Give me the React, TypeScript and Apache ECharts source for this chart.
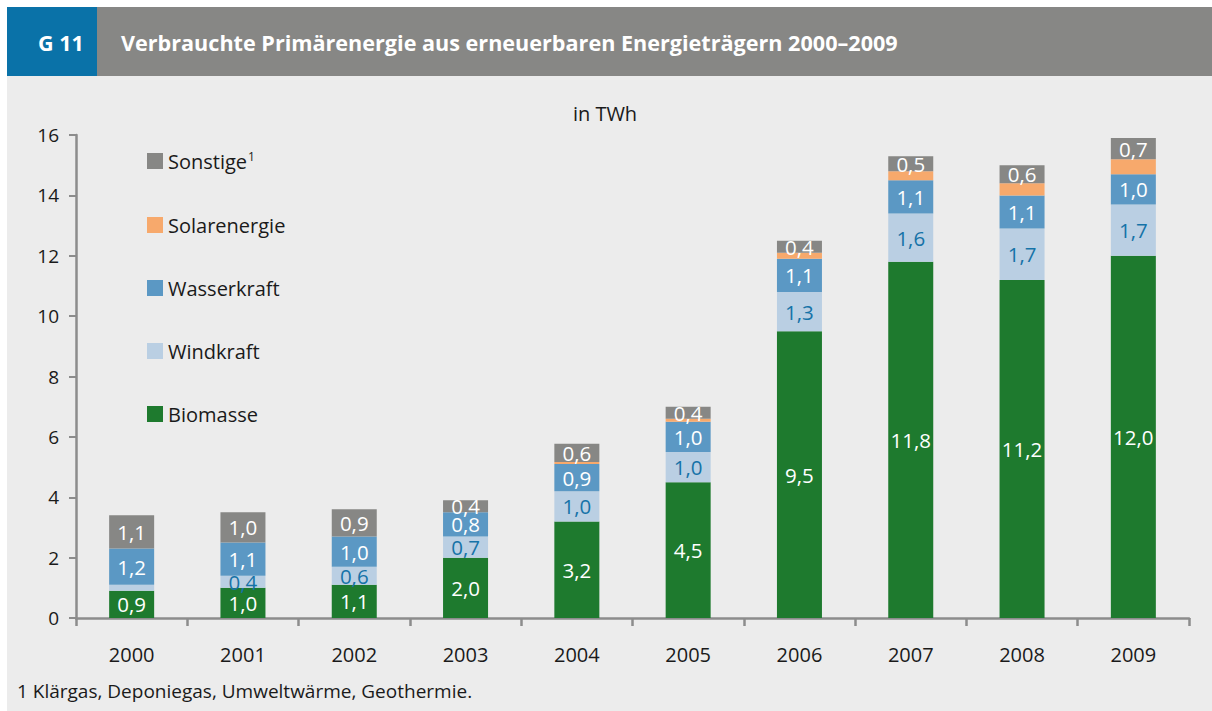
import React, { useEffect, useRef } from "react";
import * as echarts from "echarts";

const years = ["2000", "2001", "2002", "2003", "2004", "2005", "2006", "2007", "2008", "2009"];
const biomasse = [0.9, 1.0, 1.1, 2.0, 3.2, 4.5, 9.5, 11.8, 11.2, 12.0];
const windkraft = [0.2, 0.4, 0.6, 0.7, 1.0, 1.0, 1.3, 1.6, 1.7, 1.7];
const wasserkraft = [1.2, 1.1, 1.0, 0.8, 0.9, 1.0, 1.1, 1.1, 1.1, 1.0];
const solarenergie = [0, 0, 0, 0, 0.07, 0.1, 0.2, 0.3, 0.4, 0.5];
const sonstige = [1.1, 1.0, 0.9, 0.4, 0.6, 0.4, 0.4, 0.5, 0.6, 0.7];
const yTicks = { min: 0, max: 16, interval: 2 };

const FONT = "'Open Sans', 'Noto Sans', sans-serif";
const C = {
  bio: "#1e7a2e",
  wind: "#bacfe3",
  hydro: "#5b98c4",
  solar: "#f7a96c",
  other: "#878785",
  windText: "#1673a8",
};

const fmt = (v: number) => v.toFixed(1).replace(".", ",");

export default function App() {
  const ref = useRef<HTMLDivElement>(null);
  useEffect(() => {
    const chart = echarts.init(ref.current!, undefined, { renderer: "svg" });
    const mkLabel = (color: string, show = true) => ({
      show,
      position: "inside",
      color,
      fontSize: 20.5,
      fontFamily: FONT,
      formatter: (p: any) => (p.value < 0.3 ? "" : fmt(p.value)),
    });
    const bar = (name: string, data: number[], color: string, label: any) => ({
      name,
      type: "bar",
      stack: "total",
      data,
      barWidth: 45,
      itemStyle: { color },
      label,
    });
    chart.setOption({
      animation: false,
      backgroundColor: "#ffffff",
      textStyle: { fontFamily: FONT },
      graphic: [
        { type: "rect", z: -10, silent: true, shape: { x: 7, y: 76, width: 1205, height: 635 }, style: { fill: "#ececec" } },
        { type: "rect", z: -10, silent: true, shape: { x: 7, y: 7, width: 90, height: 69 }, style: { fill: "#0a72a8" } },
        { type: "rect", z: -10, silent: true, shape: { x: 97, y: 7, width: 1115, height: 69 }, style: { fill: "#878785" } },
        { type: "text", x: 38, y: 42, style: { text: "G 11", fill: "#ffffff", font: `bold 21.5px ${FONT}`, verticalAlign: "middle" } },
        { type: "text", x: 121, y: 42, style: { text: "Verbrauchte Primärenergie aus erneuerbaren Energieträgern 2000–2009", fill: "#ffffff", font: `bold 21.6px ${FONT}`, verticalAlign: "middle" } },
        { type: "text", x: 605, y: 113, style: { text: "in TWh", fill: "#1a1a1a", font: `20px ${FONT}`, align: "center", verticalAlign: "middle" } },
        { type: "text", x: 17, y: 691, style: { text: "1 Klärgas, Deponiegas, Umweltwärme, Geothermie.", fill: "#1a1a1a", font: `19px ${FONT}`, verticalAlign: "middle" } },
      ],
      legend: {
        orient: "vertical",
        left: 147,
        top: 150,
        padding: 0,
        itemWidth: 16,
        itemHeight: 16,
        itemGap: 43,
        icon: "rect",
        data: ["Sonstige", "Solarenergie", "Wasserkraft", "Windkraft", "Biomasse"],
        formatter: (n: string) => (n === "Sonstige" ? "{n|Sonstige}{s|1}" : "{n|" + n + "}"),
        textStyle: {
          color: "#1a1a1a",
          fontSize: 20,
          fontFamily: FONT,
          lineHeight: 20,
          rich: {
            n: { fontSize: 20, fontFamily: FONT, color: "#1a1a1a", lineHeight: 20 },
            s: { fontSize: 12, fontFamily: FONT, color: "#1a1a1a", padding: [0, 0, 10, 1], lineHeight: 20 },
          },
        },
      },
      grid: { left: 76, right: 23, top: 135, bottom: 93, containLabel: false },
      xAxis: {
        type: "category",
        data: years,
        boundaryGap: true,
        axisLine: { lineStyle: { color: "#8c8c8c", width: 2.5 } },
        axisTick: { show: true, length: 8, lineStyle: { color: "#8c8c8c", width: 2.5 } },
        axisLabel: { color: "#1a1a1a", fontSize: 20, fontFamily: FONT, margin: 26 },
      },
      yAxis: {
        type: "value",
        min: yTicks.min,
        max: yTicks.max,
        interval: yTicks.interval,
        splitLine: { show: false },
        axisLine: { show: true, lineStyle: { color: "#8c8c8c", width: 2.5 } },
        axisTick: { show: true, length: 7, lineStyle: { color: "#8c8c8c", width: 2 } },
        axisLabel: { color: "#1a1a1a", fontSize: 19, fontFamily: FONT, margin: 17 },
      },
      series: [
        bar("Biomasse", biomasse, C.bio, mkLabel("#ffffff")),
        bar("Windkraft", windkraft, C.wind, mkLabel(C.windText)),
        bar("Wasserkraft", wasserkraft, C.hydro, mkLabel("#ffffff")),
        bar("Solarenergie", solarenergie, C.solar, { show: false }),
        bar("Sonstige", sonstige, C.other, mkLabel("#ffffff")),
      ],
    });
    return () => chart.dispose();
  }, []);
  return <div ref={ref} style={{ position: "fixed", left: 0, top: 0, width: 1212, height: 711 }} />;
}
